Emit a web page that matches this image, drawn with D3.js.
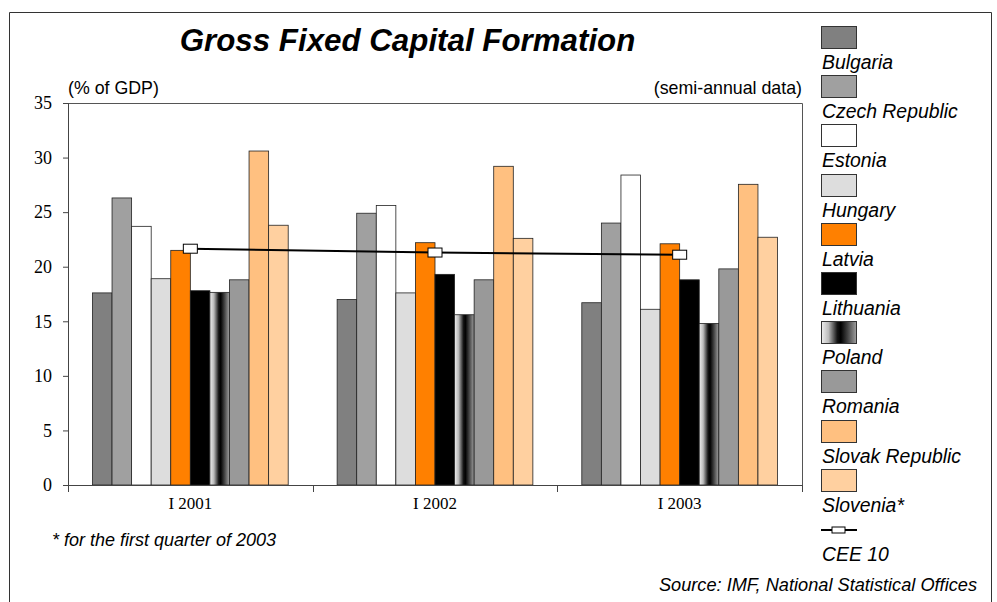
<!DOCTYPE html>
<html><head><meta charset="utf-8">
<script src="https://cdn.jsdelivr.net/npm/d3@7"></script>
<style>
body{margin:0;background:#fff;}
svg{display:block;}
.sans{font-family:"Liberation Sans",Arial,sans-serif;}
.serif{font-family:"Liberation Serif","Times New Roman",serif;}
</style></head>
<body>
<svg id="chart" width="997" height="602"></svg>
<script>
const categories = ["I 2001", "I 2002", "I 2003"];
const seriesNames = ["Bulgaria", "Czech Republic", "Estonia", "Hungary", "Latvia", "Lithuania", "Poland", "Romania", "Slovak Republic", "Slovenia*"];
const bulgaria  = [17.6, 17.0, 16.7];
const czech     = [26.3, 24.9, 24.0];
const estonia   = [23.7, 25.6, 28.4];
const hungary   = [18.9, 17.6, 16.1];
const latvia    = [21.5, 22.2, 22.1];
const lithuania = [17.8, 19.3, 18.8];
const poland    = [17.65, 15.6, 14.8];
const romania   = [18.8, 18.8, 19.8];
const slovak    = [30.6, 29.2, 27.55];
const slovenia  = [23.8, 22.6, 22.7];
const cee10     = [21.65, 21.3, 21.1];
const cee10Name = "CEE 10";
const yTicks = [0, 5, 10, 15, 20, 25, 30, 35];

const seriesValues = [bulgaria, czech, estonia, hungary, latvia, lithuania, poland, romania, slovak, slovenia];
const fills = ["#808080", "#a0a0a0", "#ffffff", "#dddddd", "#ff8000", "#000000", "url(#grad)", "#999999", "#ffc080", "#ffd0a0"];

const svg = d3.select("#chart");
const defs = svg.append("defs");
const g1 = defs.append("linearGradient").attr("id", "grad").attr("x1", "0%").attr("x2", "100%").attr("y1", "0%").attr("y2", "0%");
[[0, "#eeeeee"], [0.2, "#bbbbbb"], [0.45, "#151515"], [0.55, "#000000"], [0.75, "#444444"], [1, "#a0a0a0"]]
  .forEach(([o, c]) => g1.append("stop").attr("offset", o).attr("stop-color", c));

// outer frame
svg.append("path").attr("d", "M9.5,602 V12.5 H991.5 V602").attr("fill", "none").attr("stroke", "#333").attr("stroke-width", 1);

const L = 68, R = 802, T = 103, B = 485;
const x = d3.scaleBand().domain(categories).range([L, R]).paddingInner(0.2).paddingOuter(0.1);
const xs = d3.scaleBand().domain(d3.range(seriesNames.length)).range([0, x.bandwidth()]);
const y = d3.scaleLinear().domain([0, 35]).range([B, T]);

// plot frame top/right
svg.append("path").attr("d", `M${L},${T+0.5} H${R+0.5} V${B}`).attr("fill", "none").attr("stroke", "#555").attr("stroke-width", 1);

// bars
seriesValues.forEach((vals, si) => {
  svg.append("g").selectAll("rect").data(vals).join("rect")
    .attr("x", (d, i) => x(categories[i]) + xs(si))
    .attr("y", d => y(d))
    .attr("width", xs.bandwidth())
    .attr("height", d => B - y(d))
    .attr("fill", fills[si])
    .attr("stroke", "#222").attr("stroke-width", 0.8);
});

// y axis
const yAxis = svg.append("g").attr("transform", `translate(${L},0)`)
  .call(d3.axisLeft(y).tickValues(yTicks).tickSize(5).tickPadding(11));
yAxis.select(".domain").attr("stroke", "#444");
yAxis.selectAll(".tick line").attr("stroke", "#444");
yAxis.selectAll("text").attr("class", "serif").style("font-size", "18px").attr("fill", "#000");

// x axis
const xAxis = svg.append("g").attr("transform", `translate(0,${B})`)
  .call(d3.axisBottom(x).tickSize(0).tickPadding(10));
xAxis.select(".domain").attr("stroke", "#444").attr("d", `M${L},0.5H${R}`);
xAxis.selectAll("text").attr("class", "serif").style("font-size", "17px").attr("fill", "#000").attr("dy", "0.78em").attr("y", 11);
const boundaries = [L, ...categories.slice(1).map(c => x(c) - x.step() * x.paddingInner() / 2), R];
svg.append("g").selectAll("line").data(boundaries).join("line")
  .attr("x1", d => Math.round(d) + 0.5).attr("x2", d => Math.round(d) + 0.5)
  .attr("y1", B).attr("y2", B + 7).attr("stroke", "#444");

// CEE 10 line
const cx = (d, i) => x(categories[i]) + x.bandwidth() / 2;
svg.append("path").datum(cee10)
  .attr("d", d3.line().x(cx).y(d => y(d)))
  .attr("fill", "none").attr("stroke", "#000").attr("stroke-width", 2);
svg.append("g").selectAll("rect").data(cee10).join("rect")
  .attr("x", (d, i) => cx(d, i) - 7).attr("y", d => y(d) - 4.5)
  .attr("width", 14).attr("height", 9)
  .attr("fill", "#fff").attr("stroke", "#000").attr("stroke-width", 1);

// titles
svg.append("text").attr("class", "sans").attr("x", 407.5).attr("y", 51).attr("text-anchor", "middle")
  .style("font-size", "31.3px").style("font-weight", "bold").style("font-style", "italic")
  .text("Gross Fixed Capital Formation");
svg.append("text").attr("class", "sans").attr("x", 68).attr("y", 94).style("font-size", "17.8px").text("(% of GDP)");
svg.append("text").attr("class", "sans").attr("x", 802).attr("y", 94).attr("text-anchor", "end").style("font-size", "17.8px").text("(semi-annual data)");
svg.append("text").attr("class", "sans").attr("x", 52).attr("y", 546).style("font-size", "18px").style("font-style", "italic").text("* for the first quarter of 2003");
svg.append("text").attr("class", "sans").attr("x", 977).attr("y", 591).attr("text-anchor", "end").style("font-size", "18.2px").style("font-style", "italic").text("Source: IMF, National Statistical Offices");

// legend
const step = 49.2;
const lg = svg.append("g");
seriesNames.forEach((name, i) => {
  const top = Math.round(26 + step * i);
  lg.append("rect").attr("x", 821.5).attr("y", top + 0.5).attr("width", 35).attr("height", 22)
    .attr("fill", fills[i]).attr("stroke", "#333").attr("stroke-width", 1);
  lg.append("text").attr("class", "sans").attr("x", 822).attr("y", 69 + step * i)
    .style("font-size", "19.4px").style("font-style", "italic").text(name);
});
const ly = 26 + step * 10 + 12;
lg.append("line").attr("x1", 821).attr("x2", 857).attr("y1", ly).attr("y2", ly).attr("stroke", "#000").attr("stroke-width", 2);
lg.append("rect").attr("x", 832).attr("y", ly - 3).attr("width", 13).attr("height", 6).attr("fill", "#fff").attr("stroke", "#000");
lg.append("text").attr("class", "sans").attr("x", 822).attr("y", 69 + step * 10)
  .style("font-size", "19.4px").style("font-style", "italic").text(cee10Name);
</script>
</body></html>
